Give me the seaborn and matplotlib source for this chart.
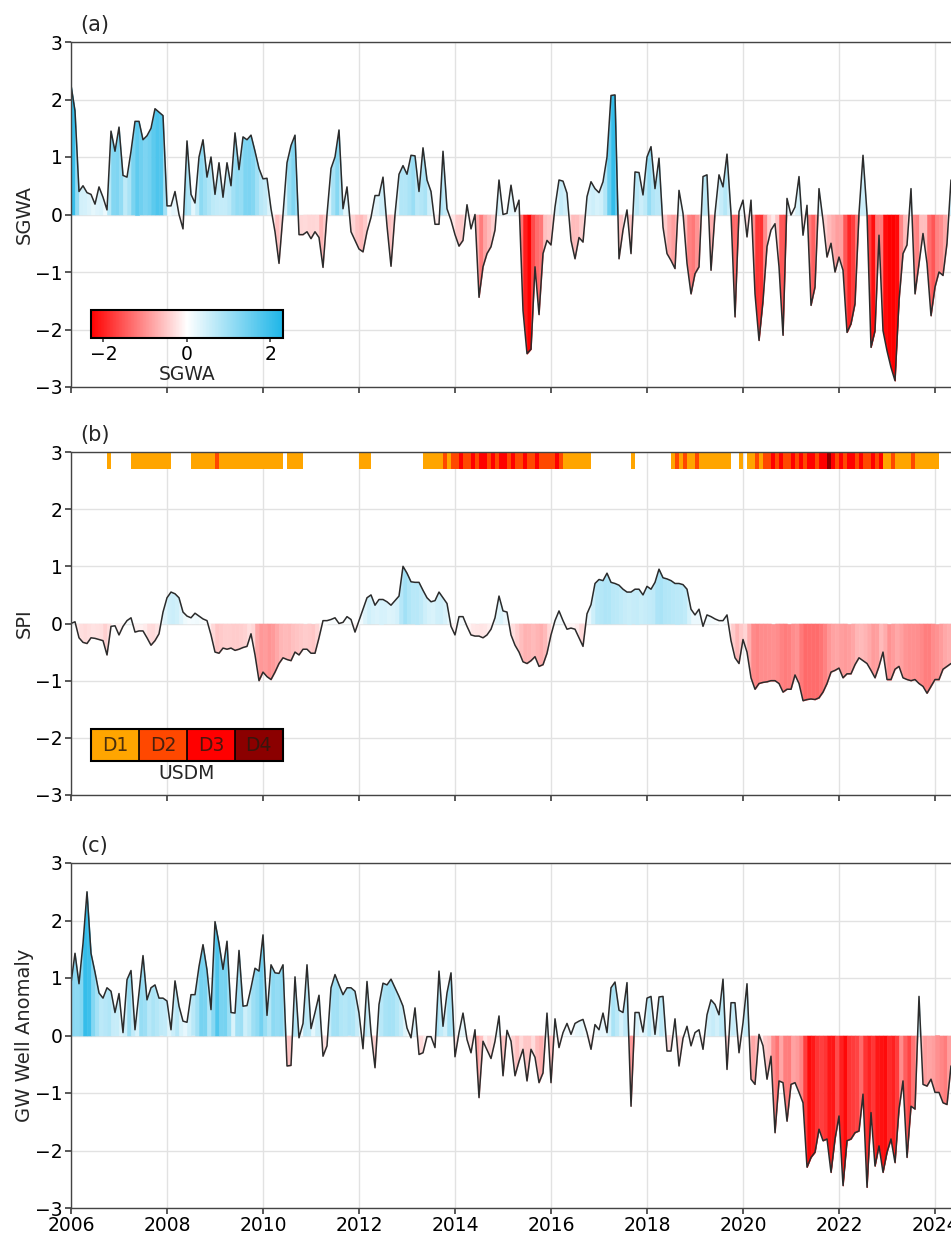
import numpy as np
import matplotlib
matplotlib.use("Agg")
import matplotlib.pyplot as plt
import seaborn as sns
from matplotlib.colors import LinearSegmentedColormap, Normalize, ListedColormap, BoundaryNorm
from matplotlib.cm import ScalarMappable

# ---------------- data (monthly, starting Jan 2006) ----------------
start_year = 2006

sgwa = [
    2.25, 1.8, 0.4, 0.5, 0.38, 0.35, 0.18, 0.48, 0.3, 0.08, 1.45, 1.1,
    1.52, 0.68, 0.65, 1.1, 1.62, 1.62, 1.3, 1.37, 1.5, 1.84, 1.78, 1.72,
    0.15, 0.15, 0.4, 0.0, -0.25, 1.28, 0.35, 0.2, 1.0, 1.3, 0.65, 1.0,
    0.35, 0.9, 0.3, 0.9, 0.5, 1.42, 0.78, 1.35, 1.3, 1.38, 1.1, 0.8,
    0.62, 0.63, 0.1, -0.3, -0.85, 0.0, 0.9, 1.2, 1.38, -0.35, -0.35, -0.3,
    -0.42, -0.3, -0.4, -0.92, 0.0, 0.8, 1.0, 1.47, 0.1, 0.48, -0.3, -0.45,
    -0.6, -0.65, -0.3, -0.05, 0.33, 0.33, 0.65, -0.2, -0.9, 0.0, 0.7, 0.85,
    0.7, 1.03, 1.02, 0.4, 1.16, 0.6, 0.4, -0.17, -0.17, 1.1, 0.1, -0.1,
    -0.35, -0.55, -0.45, 0.17, -0.25, 0.0, -1.44, -0.91, -0.68, -0.56, -0.27, 0.6,
    0.0, 0.02, 0.51, 0.05, 0.25, -1.67, -2.42, -2.34, -0.91, -1.74, -0.68, -0.45,
    -0.53, 0.13, 0.6, 0.58, 0.37, -0.45, -0.77, -0.4, -0.48, 0.31, 0.57, 0.45,
    0.38, 0.57, 1.0, 2.07, 2.08, -0.77, -0.27, 0.08, -0.68, 0.74, 0.73, 0.34,
    1.0, 1.18, 0.45, 0.98, -0.22, -0.68, -0.8, -0.94, 0.42, 0.02, -0.85, -1.38,
    -1.03, -0.91, 0.66, 0.69, -0.97, 0.02, 0.69, 0.48, 1.05, 0.02, -1.78, 0.05,
    0.25, -0.39, 0.25, -1.38, -2.19, -1.5, -0.56, -0.27, -0.16, -0.91, -2.1, 0.28,
    -0.01, 0.13, 0.66, -0.36, 0.16, -1.58, -1.26, 0.45, -0.1, -0.74, -0.5, -1.0,
    -0.74, -0.97, -2.05, -1.9, -1.55, 0.02, 1.03, 0.02, -2.31, -2.02, -0.36, -2.02,
    -2.37, -2.66, -2.89, -1.5, -0.68, -0.53, 0.45, -1.38, -0.85, -0.33, -0.85, -1.76,
    -1.26, -1.0, -1.06, -0.5, 0.6,
]

spi = [
    0.0, 0.03, -0.25, -0.33, -0.35, -0.25, -0.26, -0.28, -0.3, -0.55, -0.05, -0.04,
    -0.2, -0.05, 0.05, 0.1, -0.15, -0.13, -0.13, -0.25, -0.38, -0.3, -0.18, 0.2,
    0.45, 0.55, 0.52, 0.45, 0.2, 0.13, 0.1, 0.18, 0.13, 0.08, 0.05, -0.2,
    -0.5, -0.52, -0.43, -0.45, -0.43, -0.47, -0.45, -0.42, -0.4, -0.18, -0.55, -1.0,
    -0.85, -0.93, -0.98, -0.85, -0.7, -0.6, -0.63, -0.65, -0.5, -0.55, -0.45, -0.45,
    -0.52, -0.52, -0.25, 0.05, 0.05, 0.07, 0.1, 0.0, 0.02, 0.12, 0.07, -0.15,
    0.05, 0.25, 0.45, 0.5, 0.32, 0.42, 0.42, 0.38, 0.32, 0.4, 0.48, 1.0,
    0.88, 0.73, 0.72, 0.72, 0.58, 0.45, 0.38, 0.4, 0.55, 0.45, 0.35, -0.05,
    -0.2, 0.12, 0.12, -0.05, -0.2, -0.22, -0.22, -0.25, -0.2, -0.1, 0.1, 0.48,
    0.22, 0.2, -0.2, -0.38, -0.5, -0.67, -0.7, -0.65, -0.58, -0.75, -0.72, -0.52,
    -0.2, 0.05, 0.22, 0.05, -0.1, -0.08, -0.1, -0.25, -0.4, 0.17, 0.33, 0.7,
    0.77, 0.75, 0.88, 0.72, 0.7, 0.67, 0.6, 0.55, 0.55, 0.6, 0.6, 0.5,
    0.65, 0.6, 0.72, 0.95, 0.8, 0.78, 0.75, 0.7, 0.7, 0.68, 0.6, 0.25,
    0.15, 0.25, -0.05, 0.15, 0.12, 0.08, 0.05, 0.05, 0.15, -0.3, -0.6, -0.7,
    -0.28, -0.5, -0.95, -1.15, -1.05, -1.03, -1.02, -1.0, -1.0, -1.05, -1.2, -1.15,
    -1.15, -0.9, -1.05, -1.35, -1.33, -1.32, -1.33, -1.3, -1.2, -1.05, -0.85, -0.82,
    -0.78, -0.95, -0.88, -0.88, -0.72, -0.6, -0.65, -0.7, -0.82, -0.95, -0.75, -0.5,
    -0.98, -0.98, -0.8, -0.75, -0.95, -0.98, -1.0, -0.98, -1.05, -1.1, -1.22, -1.1,
    -0.98, -0.98, -0.8, -0.75, -0.7,
]

gw_anom = [
    0.91, 1.43, 0.9, 1.6, 2.5, 1.43, 1.1, 0.74, 0.65, 0.83, 0.77, 0.4,
    0.73, 0.05, 0.97, 1.13, 0.1, 0.74, 1.39, 0.62, 0.83, 0.88, 0.65, 0.65,
    0.6, 0.1, 0.95, 0.51, 0.25, 0.23, 0.71, 0.71, 1.2, 1.58, 1.14, 0.45,
    1.98, 1.6, 1.15, 1.64, 0.4, 0.39, 1.48, 0.51, 0.52, 0.83, 1.17, 1.12,
    1.75, 0.35, 1.23, 1.09, 1.08, 1.23, -0.53, -0.52, 1.02, -0.04, 0.21, 1.23,
    0.12, 0.4, 0.7, -0.36, -0.18, 0.83, 1.06, 0.88, 0.71, 0.83, 0.83, 0.77,
    0.39, -0.23, 0.94, 0.05, -0.56, 0.54, 0.91, 0.88, 0.98, 0.83, 0.68, 0.51,
    0.13, -0.04, 0.48, -0.33, -0.3, -0.02, -0.02, -0.21, 1.12, 0.16, 0.74, 1.09,
    -0.37, 0.05, 0.39, -0.07, -0.3, 0.1, -1.08, -0.1, -0.25, -0.4, -0.1, 0.34,
    -0.7, 0.09, -0.1, -0.7, -0.45, -0.24, -0.79, -0.24, -0.38, -0.82, -0.65, 0.39,
    -0.82, 0.29, -0.21, 0.05, 0.21, 0.02, 0.21, 0.25, 0.28, 0.05, -0.24, 0.19,
    0.1, 0.39, 0.05, 0.83, 0.93, 0.44, 0.4, 0.92, -1.23, 0.4, 0.4, 0.06,
    0.65, 0.68, 0.02, 0.67, 0.68, -0.27, -0.27, 0.29, -0.53, -0.05, 0.16, -0.18,
    0.05, 0.1, -0.24, 0.36, 0.62, 0.54, 0.36, 0.98, -0.59, 0.57, 0.57, -0.3,
    0.22, 0.9, -0.76, -0.85, 0.02, -0.18, -0.76, -0.36, -1.69, -0.79, -0.82, -1.49,
    -0.85, -0.82, -0.99, -1.17, -2.29, -2.12, -2.03, -1.63, -1.83, -1.8, -2.38, -1.8,
    -1.4, -2.61, -1.83, -1.8, -1.69, -1.66, -1.02, -2.64, -1.34, -2.27, -1.92, -2.38,
    -2.03, -1.8, -2.21, -1.28, -0.79, -2.12, -1.23, -1.28, 0.68, -0.85, -0.88, -0.76,
    -0.99, -0.99, -1.17, -1.2, -0.53,
]

# USDM drought category per month (0 = none, 1..4 = D1..D4)
usdm = [
    0, 0, 0, 0, 0, 0, 0, 0, 0, 1, 0, 0,
    0, 0, 0, 1, 1, 1, 1, 1, 1, 1, 1, 1,
    1, 0, 0, 0, 0, 0, 1, 1, 1, 1, 1, 1,
    2, 1, 1, 1, 1, 1, 1, 1, 1, 1, 1, 1,
    1, 1, 1, 1, 1, 0, 1, 1, 1, 1, 0, 0,
    0, 0, 0, 0, 0, 0, 0, 0, 0, 0, 0, 0,
    1, 1, 1, 0, 0, 0, 0, 0, 0, 0, 0, 0,
    0, 0, 0, 0, 1, 1, 1, 1, 1, 2, 1, 2,
    2, 3, 2, 2, 3, 2, 3, 3, 2, 3, 2, 3,
    3, 2, 3, 2, 2, 3, 2, 2, 3, 2, 2, 2,
    2, 3, 2, 1, 1, 1, 1, 1, 1, 1, 0, 0,
    0, 0, 0, 0, 0, 0, 0, 0, 1, 0, 0, 0,
    0, 0, 0, 0, 0, 0, 1, 2, 1, 2, 1, 1,
    2, 1, 1, 1, 1, 1, 1, 1, 1, 0, 0, 1,
    0, 1, 1, 2, 1, 2, 2, 3, 2, 3, 2, 2,
    3, 2, 3, 2, 3, 3, 2, 3, 3, 4, 3, 2,
    3, 2, 3, 3, 2, 3, 2, 2, 3, 2, 3, 1,
    1, 2, 1, 1, 1, 1, 2, 1, 1, 1, 1, 1,
    1, 0, 0, 0, 1,
]

year_ticks = list(range(2006, 2025, 2))
y_ticks = [-3, -2, -1, 0, 1, 2, 3]
panel_tags = ["(a)", "(b)", "(c)"]
y_labels = ["SGWA", "SPI", "GW Well Anomaly"]
usdm_labels = ["D1", "D2", "D3", "D4"]
usdm_colors = ["#FFA500", "#FF4800", "#FF0000", "#8B0000"]
cbar_ticks = [-2, 0, 2]

# ---------------- style ----------------
sns.set_theme(style="whitegrid")
plt.rcParams["font.family"] = ["DejaVu Sans"]
plt.rcParams.update({
    "axes.edgecolor": "#444444",
    "axes.linewidth": 1.0,
    "grid.color": "#e2e2e2",
    "grid.linewidth": 1.0,
    "xtick.bottom": True,
    "ytick.left": True,
    "xtick.major.size": 4,
    "ytick.major.size": 4,
    "xtick.color": "#444444",
    "ytick.color": "#444444",
    "xtick.labelcolor": "black",
    "ytick.labelcolor": "black",
})

cmap = LinearSegmentedColormap.from_list("rwb", ["#FF0000", "#FFFFFF", "#1EB6E8"])
norm = Normalize(vmin=-2.3, vmax=2.3)

W, H = 951, 1235
fig = plt.figure(figsize=(W / 100, H / 100), dpi=100)

left_px = 71
px_per_year = 48.0
x_end = 2024.5
ax_w = (x_end - start_year) * px_per_year / W
panel_px = [(42, 387), (452, 795), (863, 1208)]

series = [sgwa, spi, gw_anom]
axes = []
for k, (top, bot) in enumerate(panel_px):
    ax = fig.add_axes([left_px / W, 1 - bot / H, ax_w, (bot - top) / H])
    axes.append(ax)
    vals = np.asarray(series[k], dtype=float)
    t = start_year + np.arange(len(vals)) / 12.0

    # coloured fill, one strip per month
    for i in range(len(vals) - 1):
        v0, v1 = vals[i], vals[i + 1]
        t0, t1 = t[i], t[i + 1]
        if v0 * v1 < 0:
            tc = t0 + (t1 - t0) * v0 / (v0 - v1)
            c0 = cmap(norm(v0 * 0.75))
            c1 = cmap(norm(v1 * 0.75))
            ax.fill_between([t0, tc], 0, [v0, 0], color=c0, linewidth=0.4, edgecolor=c0)
            ax.fill_between([tc, t1], 0, [0, v1], color=c1, linewidth=0.4, edgecolor=c1)
        else:
            c = cmap(norm((v0 + v1) / 2))
            ax.fill_between([t0, t1], 0, [v0, v1], color=c, linewidth=0.4, edgecolor=c)

    sns.lineplot(x=t, y=vals, ax=ax, color="#2b2b2b", linewidth=1.1, legend=False)

    ax.set_xlim(start_year, x_end)
    ax.set_ylim(-3, 3)
    ax.set_yticks(y_ticks)
    ax.set_xticks(year_ticks)
    ax.set_axisbelow(True)
    ax.grid(True)
    ax.tick_params(axis="both", labelsize=13.5, pad=2)
    if k < 2:
        ax.set_xticklabels([])
    else:
        ax.set_xticklabels([str(y) for y in year_ticks])
    ax.set_ylabel(y_labels[k], fontsize=14)
    ax.yaxis.set_label_coords(-0.042, 0.5)
    ax.text(0.01, 1.02, panel_tags[k], transform=ax.transAxes,
            fontsize=15, ha="left", va="bottom")

    if k == 1:
        u = np.asarray(usdm)
        tu = start_year + np.arange(len(u)) / 12.0
        mask = u > 0
        ax.bar(tu[mask], 0.28, bottom=2.7, width=1 / 12.0, align="edge",
               color=[usdm_colors[c - 1] for c in u[mask]], linewidth=0)

# colour bar legend in panel (a)
cax = axes[0].inset_axes([0.0225, 0.142, 0.216, 0.081])
cb = fig.colorbar(ScalarMappable(norm=norm, cmap=cmap), cax=cax,
                  orientation="horizontal", ticks=cbar_ticks)
cb.outline.set_linewidth(1.5)
cb.outline.set_edgecolor("black")
cax.tick_params(labelsize=13.5, length=3, pad=2)
cb.set_label("SGWA", fontsize=13.5, labelpad=1)

# USDM category legend in panel (b)
cax2 = axes[1].inset_axes([0.0225, 0.099, 0.216, 0.093])
ucmap = ListedColormap(usdm_colors)
unorm = BoundaryNorm([0.5, 1.5, 2.5, 3.5, 4.5], ucmap.N)
cb2 = fig.colorbar(ScalarMappable(norm=unorm, cmap=ucmap), cax=cax2,
                   orientation="horizontal", drawedges=True)
cb2.set_ticks([])
cb2.minorticks_off()
cax2.tick_params(axis="both", which="both", length=0)
cb2.outline.set_linewidth(1.5)
cb2.outline.set_edgecolor("black")
cb2.dividers.set_color("black")
cb2.dividers.set_linewidth(1.2)
cb2.set_label("USDM", fontsize=13.5, labelpad=2)
for j, lab in enumerate(usdm_labels):
    cax2.text(j + 1, 0.5, lab, ha="center", va="center", fontsize=13.5,
              color="#2a1a10", alpha=0.85, transform=cax2.transData)

fig.savefig("out.png", dpi=100)
